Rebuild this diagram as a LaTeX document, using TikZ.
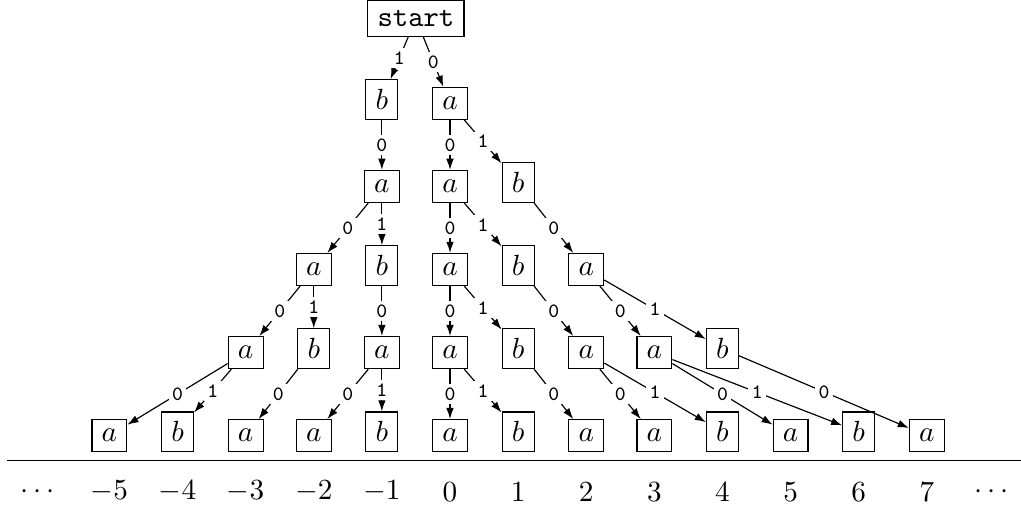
\documentclass[tikz,border=0pt]{standalone}
\usetikzlibrary{arrows.meta}
\def\Dx{0.82}
\def\Dy{1}
\def\Lh{-0.225}
\def\Ly{-0.6}
\tikzset{
  st/.style={draw, anchor=base, inner sep=0.333em},
  lb/.style={fill=white, inner sep=1.2pt, font=\ttfamily\scriptsize},
  ed/.style={-{Latex[length=3.8pt,width=2.6pt]}},
}

\begin{document}
\begin{tikzpicture}
\useasboundingbox (-5.417, -0.78) rectangle (6.873, 5.32);

% states, one row per level
\node[st] (start) at (-0.5 * \Dx, 5 * \Dy) {\texttt{start}};

\node[st] (r1m1) at (-1 * \Dx, 4 * \Dy) {$b$};
\node[st] (r1c0) at (0, 4 * \Dy) {$a$};

\node[st] (r2m1) at (-1 * \Dx, 3 * \Dy) {$a$};
\node[st] (r2c0) at (0, 3 * \Dy) {$a$};
\node[st] (r2c1) at (1 * \Dx, 3 * \Dy) {$b$};

\node[st] (r3m2) at (-2 * \Dx, 2 * \Dy) {$a$};
\node[st] (r3m1) at (-1 * \Dx, 2 * \Dy) {$b$};
\node[st] (r3c0) at (0, 2 * \Dy) {$a$};
\node[st] (r3c1) at (1 * \Dx, 2 * \Dy) {$b$};
\node[st] (r3c2) at (2 * \Dx, 2 * \Dy) {$a$};

\node[st] (r4m3) at (-3 * \Dx, 1 * \Dy) {$a$};
\node[st] (r4m2) at (-2 * \Dx, 1 * \Dy) {$b$};
\node[st] (r4m1) at (-1 * \Dx, 1 * \Dy) {$a$};
\node[st] (r4c0) at (0, 1 * \Dy) {$a$};
\node[st] (r4c1) at (1 * \Dx, 1 * \Dy) {$b$};
\node[st] (r4c2) at (2 * \Dx, 1 * \Dy) {$a$};
\node[st] (r4c3) at (3 * \Dx, 1 * \Dy) {$a$};
\node[st] (r4c4) at (4 * \Dx, 1 * \Dy) {$b$};

\node[st] (r5m5) at (-5 * \Dx, 0) {$a$};
\node[st] (r5m4) at (-4 * \Dx, 0) {$b$};
\node[st] (r5m3) at (-3 * \Dx, 0) {$a$};
\node[st] (r5m2) at (-2 * \Dx, 0) {$a$};
\node[st] (r5m1) at (-1 * \Dx, 0) {$b$};
\node[st] (r5c0) at (0, 0) {$a$};
\node[st] (r5c1) at (1 * \Dx, 0) {$b$};
\node[st] (r5c2) at (2 * \Dx, 0) {$a$};
\node[st] (r5c3) at (3 * \Dx, 0) {$a$};
\node[st] (r5c4) at (4 * \Dx, 0) {$b$};
\node[st] (r5c5) at (5 * \Dx, 0) {$a$};
\node[st] (r5c6) at (6 * \Dx, 0) {$b$};
\node[st] (r5c7) at (7 * \Dx, 0) {$a$};

% transitions
\draw[ed] (start) -- node[lb] {1} (r1m1);
\draw[ed] (start) -- node[lb] {0} (r1c0);

\draw[ed] (r1m1) -- node[lb] {0} (r2m1);
\draw[ed] (r1c0) -- node[lb] {0} (r2c0);
\draw[ed] (r1c0) -- node[lb] {1} (r2c1);

\draw[ed] (r2m1) -- node[lb] {0} (r3m2);
\draw[ed] (r2m1) -- node[lb] {1} (r3m1);
\draw[ed] (r2c0) -- node[lb] {0} (r3c0);
\draw[ed] (r2c0) -- node[lb] {1} (r3c1);
\draw[ed] (r2c1) -- node[lb] {0} (r3c2);

\draw[ed] (r3m2) -- node[lb] {0} (r4m3);
\draw[ed] (r3m2) -- node[lb] {1} (r4m2);
\draw[ed] (r3m1) -- node[lb] {0} (r4m1);
\draw[ed] (r3c0) -- node[lb] {0} (r4c0);
\draw[ed] (r3c0) -- node[lb] {1} (r4c1);
\draw[ed] (r3c1) -- node[lb] {0} (r4c2);
\draw[ed] (r3c2) -- node[lb] {0} (r4c3);
\draw[ed] (r3c2) -- node[lb] {1} (r4c4);

\draw[ed] (r4m3) -- node[lb] {0} (r5m5);
\draw[ed] (r4m3) -- node[lb] {1} (r5m4);
\draw[ed] (r4m2) -- node[lb] {0} (r5m3);
\draw[ed] (r4m1) -- node[lb] {0} (r5m2);
\draw[ed] (r4m1) -- node[lb] {1} (r5m1);
\draw[ed] (r4c0) -- node[lb] {0} (r5c0);
\draw[ed] (r4c0) -- node[lb] {1} (r5c1);
\draw[ed] (r4c1) -- node[lb] {0} (r5c2);
\draw[ed] (r4c2) -- node[lb] {0} (r5c3);
\draw[ed] (r4c2) -- node[lb] {1} (r5c4);
\draw[ed] (r4c3) -- node[lb] {0} (r5c5);
\draw[ed] (r4c3) -- node[lb] {1} (r5c6);
\draw[ed] (r4c4) -- node[lb] {0} (r5c7);

% number line
\draw (-6.5 * \Dx, \Lh) -- (8.6 * \Dx, \Lh);

\node (ldl) at (-6.05 * \Dx, \Ly) {$\cdots$};
\node (lm5) at (-5 * \Dx, \Ly) {$-5$};
\node (lm4) at (-4 * \Dx, \Ly) {$-4$};
\node (lm3) at (-3 * \Dx, \Ly) {$-3$};
\node (lm2) at (-2 * \Dx, \Ly) {$-2$};
\node (lm1) at (-1 * \Dx, \Ly) {$-1$};
\node (lc0) at (0, \Ly) {$0$};
\node (lc1) at (1 * \Dx, \Ly) {$1$};
\node (lc2) at (2 * \Dx, \Ly) {$2$};
\node (lc3) at (3 * \Dx, \Ly) {$3$};
\node (lc4) at (4 * \Dx, \Ly) {$4$};
\node (lc5) at (5 * \Dx, \Ly) {$5$};
\node (lc6) at (6 * \Dx, \Ly) {$6$};
\node (lc7) at (7 * \Dx, \Ly) {$7$};
\node (ldr) at (7.95 * \Dx, \Ly) {$\cdots$};
\end{tikzpicture}
\end{document}
